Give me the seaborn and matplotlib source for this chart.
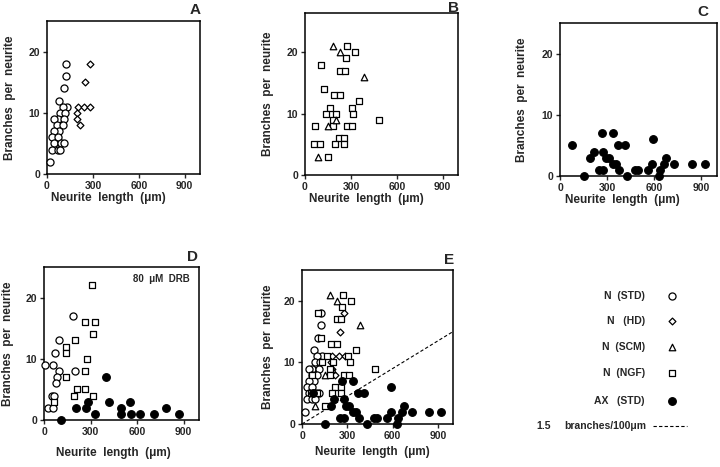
import numpy as np
import pandas as pd
import matplotlib
matplotlib.use('Agg')
import matplotlib.pyplot as plt
import seaborn as sns
from matplotlib.lines import Line2D

sns.set_style('ticks')
plt.rcParams['font.family'] = ['Liberation Sans', 'DejaVu Sans']
plt.rcParams['font.weight'] = 'bold'

# ---------------- data ----------------
# Panel A : N (STD) circles and N (HD) diamonds
a_std_x = [126, 126, 108, 80, 130, 102, 87, 117, 69, 48, 113, 65, 102, 80, 48, 30, 69, 48, 91, 112, 30, 69, 87, 22]
a_std_y = [18, 16, 14, 12, 11, 11, 10, 10, 9, 9, 9, 8, 8, 7, 7, 6, 6, 5, 5, 5, 4, 4, 4, 2]
a_hd_x = [280, 250, 200, 243, 282, 193, 196, 217]
a_hd_y = [18, 15, 11, 11, 11, 10, 9, 8]

# Panel B : N (NGF) squares and N (SCM) triangles
b_ngf_x = [105, 272, 327, 265, 229, 261, 126, 191, 229, 355, 163, 305, 135, 203, 316, 484, 185,
           65, 185, 277, 310, 219, 258, 61, 98, 196, 258, 152]
b_ngf_y = [18, 21, 20, 19, 17, 17, 14, 13, 13, 12, 11, 11, 10, 10, 10, 9, 9,
           8, 8, 8, 8, 6, 6, 5, 5, 5, 5, 3]
b_scm_x = [185, 229, 387, 200, 152, 83]
b_scm_y = [21, 20, 16, 9, 8, 3]

# Panel C : AX (STD) filled circles
c_ax_x = [75, 150, 190, 215, 265, 340, 277, 294, 310, 368, 411, 337, 355, 251, 277, 375, 428,
          475, 497, 560, 588, 592, 631, 635, 661, 678, 727, 838, 923]
c_ax_y = [5, 0, 3, 4, 7, 7, 4, 3, 3, 5, 5, 2, 2, 1, 1, 1, 0,
          1, 1, 1, 2, 6, 0, 1, 2, 3, 2, 2, 2]

# Panel D : 80 uM DRB
d_std_x = [188, 95, 69, 9, 58, 99, 203, 84, 80, 52, 65, 24, 58]
d_std_y = [17, 13, 11, 9, 9, 8, 8, 7, 6, 4, 4, 2, 2]
d_ngf_x = [310, 267, 326, 316, 203, 144, 144, 278, 267, 144, 213, 267, 196, 316, 65]
d_ngf_y = [22, 16, 16, 14, 13, 12, 11, 10, 8, 7, 5, 5, 4, 4, 3]
d_ax_x = [110, 207, 274, 282, 397, 418, 326, 498, 498, 554, 562, 618, 709, 785, 871]
d_ax_y = [0, 2, 2, 3, 7, 3, 1, 2, 1, 3, 1, 1, 1, 2, 1]

# reference line: 1.5 branches / 100 um
line_x = [0, 1000]
line_slope = 1.5 / 100

x_ticks = [0, 300, 600, 900]
y_ticks = [0, 10, 20]
legend_labels = ['N  (STD)', 'N   (HD)', 'N  (SCM)', 'N  (NGF)', 'AX   (STD)']

# ---------------- styles ----------------
styles = {
    'STD': dict(marker='o', s=26, color='white'),
    'HD': dict(marker='D', s=12, color='white'),
    'SCM': dict(marker='^', s=22, color='white'),
    'NGF': dict(marker='s', s=25, color='white'),
    'AX': dict(marker='o', s=30, color='black'),
}

W, H = 720, 467
fig = plt.figure(figsize=(7.2, 4.67), dpi=100)


def axbox(l, t, r, b):
    return fig.add_axes([l / W, 1 - b / H, (r - l) / W, (b - t) / H])


def style_labels(ax, box, xl_center, xl_y, yl_x):
    l, t, r, b = box
    ax.set_xlabel('Neurite  length  (\u03bcm)', fontsize=8.5, fontweight='bold')
    ax.set_ylabel('Branches  per  neurite', fontsize=8.5, fontweight='bold')
    wpx, hpx = r - l, b - t
    ax.xaxis.set_label_coords((xl_center - l) / wpx, -(xl_y - b) / hpx)
    ax.yaxis.set_label_coords(-(l - yl_x) / wpx, 0.5)
    ax.xaxis.label.set_va('center')
    ax.yaxis.label.set_va('center')


def draw(ax, groups, ytop, box, xl_center, xl_y, yl_x, title, title_x, title_y):
    for key, xs, ys in groups:
        st = styles[key]
        df = pd.DataFrame({'x': xs, 'y': ys})
        sns.scatterplot(data=df, x='x', y='y', ax=ax, marker=st['marker'], s=st['s'],
                        color=st['color'], edgecolor='black', linewidth=0.9,
                        legend=False, zorder=3, clip_on=False)
    ax.set_xlim(0, 1000)
    ax.set_ylim(0, ytop)
    ax.set_xticks(x_ticks)
    ax.set_yticks(y_ticks)
    ax.tick_params(axis='both', direction='out', length=3, width=1, labelsize=7.5, pad=2)
    for lab in ax.get_xticklabels() + ax.get_yticklabels():
        lab.set_fontweight('bold')
    for sp in ax.spines.values():
        sp.set_visible(True)
        sp.set_linewidth(1.1)
        sp.set_color('black')
    style_labels(ax, box, xl_center, xl_y, yl_x)
    fig.text(title_x / W, 1 - title_y / H, title, fontsize=11, fontweight='bold',
             ha='right', va='center')


boxA = (47, 21, 200, 174)
boxB = (305, 13, 458, 175)
boxC = (560, 23, 717, 176)
boxD = (44, 267, 199, 420)
boxE = (302, 270, 453, 424)

axA = axbox(*boxA)
draw(axA, [('STD', a_std_x, a_std_y), ('HD', a_hd_x, a_hd_y)], 25, boxA, 108, 198, 10, 'A', 201, 10)

axB = axbox(*boxB)
draw(axB, [('NGF', b_ngf_x, b_ngf_y), ('SCM', b_scm_x, b_scm_y)], 26.4, boxB, 366, 199, 268, 'B', 459, 8)

axC = axbox(*boxC)
draw(axC, [('AX', c_ax_x, c_ax_y)], 25, boxC, 622, 200, 522, 'C', 708, 12)

axD = axbox(*boxD)
draw(axD, [('STD', d_std_x, d_std_y), ('NGF', d_ngf_x, d_ngf_y), ('AX', d_ax_x, d_ax_y)],
     25, boxD, 113, 453, 8, 'D', 198, 257)
axD.text(0.94, 0.92, '80  \u03bcM  DRB', transform=axD.transAxes, fontsize=7, fontweight='bold',
         ha='right', va='center')

axE = axbox(*boxE)
draw(axE, [('STD', a_std_x, a_std_y), ('HD', a_hd_x, a_hd_y), ('SCM', b_scm_x, b_scm_y),
           ('NGF', b_ngf_x, b_ngf_y), ('AX', c_ax_x, c_ax_y)],
     25, boxE, 372, 452, 268, 'E', 454, 260)
line_df = pd.DataFrame({'x': line_x, 'y': [v * line_slope for v in line_x]})
sns.lineplot(data=line_df, x='x', y='y', ax=axE, color='black', linewidth=0.8,
             linestyle=(0, (3, 2)), zorder=2)
style_labels(axE, boxE, 372, 452, 268)

# ---------------- legend ----------------
axL = fig.add_axes([0, 0, 1, 1], zorder=-1)
axL.set_xlim(0, W)
axL.set_ylim(H, 0)
axL.axis('off')
rows_y = [296, 321, 347, 373, 401]
keys = ['STD', 'HD', 'SCM', 'NGF', 'AX']
for lab, key, yy in zip(legend_labels, keys, rows_y):
    axL.text(645, yy, lab, fontsize=7.5, fontweight='bold', ha='right', va='center')
    st = styles[key]
    axL.scatter([672], [yy], marker=st['marker'], s=st['s'], facecolor=st['color'],
                edgecolor='black', linewidth=0.9)
axL.text(536, 426, '1.5', fontsize=7.5, fontweight='bold', ha='left', va='center')
axL.text(646, 426, 'branches/100\u03bcm', fontsize=7.5, fontweight='bold', ha='right', va='center')
axL.add_line(Line2D([653, 687], [426, 426], color='black', linewidth=0.8, linestyle=(0, (3, 2))))

fig.savefig('out.png', dpi=100, facecolor='white')
